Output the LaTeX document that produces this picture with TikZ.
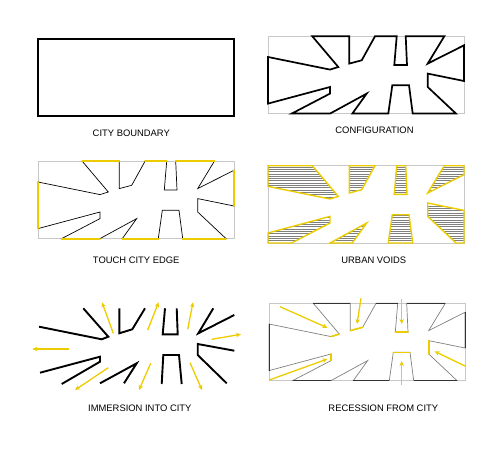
\documentclass[tikz,border=0pt]{standalone}
\usepackage{fontspec}
\setmainfont{Liberation Sans}
\usetikzlibrary{arrows.meta}
\definecolor{ylw}{RGB}{236,204,0}
\definecolor{frame}{RGB}{200,200,200}
\newcommand\setpts{%
 \coordinate (p1) at (44.3,0);
 \coordinate (p2) at (81.3,0);
 \coordinate (p3) at (81.3,27.3);
 \coordinate (p4) at (93.7,24);
 \coordinate (p5) at (107,0);
 \coordinate (p6) at (128.7,0);
 \coordinate (p7) at (126.3,28.7);
 \coordinate (p8) at (139,28.7);
 \coordinate (p9) at (137.7,0);
 \coordinate (p10) at (176.3,0);
 \coordinate (p11) at (159.7,27.3);
 \coordinate (p12) at (196,9);
 \coordinate (p13) at (196,44.7);
 \coordinate (p14) at (159.7,37.3);
 \coordinate (p15) at (159.7,50.7);
 \coordinate (p16) at (188,77.3);
 \coordinate (p17) at (144.7,77.3);
 \coordinate (p18) at (141,49);
 \coordinate (p19) at (124.3,49);
 \coordinate (p20) at (120.3,77.3);
 \coordinate (p21) at (84.3,77.3);
 \coordinate (p22) at (98.7,57.3);
 \coordinate (p23) at (62,77.3);
 \coordinate (p24) at (23.7,77.3);
 \coordinate (p25) at (62,57.3);
 \coordinate (p26) at (62,50.7);
 \coordinate (p27) at (0,67.3);
 \coordinate (p28) at (0,20.7);
 \coordinate (p29) at (62,33.3);
 \coordinate (p30) at (70.3,30.7);
 \coordinate (tl) at (0,0);
 \coordinate (tr) at (196,0);
 \coordinate (br) at (196,77.3);
 \coordinate (bl) at (0,77.3);
}
\newcommand\outline{(p1) -- (p2) -- (p3) -- (p4) -- (p5) -- (p6) -- (p7) -- (p8) -- (p9) -- (p10) -- (p11) -- (p12) -- (p13) -- (p14) -- (p15) -- (p16) -- (p17) -- (p18) -- (p19) -- (p20) -- (p21) -- (p22) -- (p23) -- (p24) -- (p25) -- (p26) -- (p27) -- (p28) -- (p29) -- (p30) -- cycle}
\tikzset{
 lbl/.style={font=\fontsize{9.4}{11}\selectfont, inner sep=0pt},
 gframe/.style={draw=frame, line width=0.6},
 yarrow/.style={draw=ylw, line width=1.3, -{Stealth[length=5pt,width=4.5pt]}},
 piece/.style={draw=black, line width=1.9, line join=miter},
 yseg/.style={draw=ylw, line width=1.9, line cap=round},
}
\begin{document}
\begin{tikzpicture}[x=1pt,y=-1pt]
\useasboundingbox (0,0) rectangle (502,457);

% Panel 1: city boundary
\draw[line width=1.9] (38.3,39) rectangle (234.3,115.7);
\node[lbl] (l1) at (131.3,133) {CITY BOUNDARY};

% Panel 2: configuration
\begin{scope}[shift={(268,36.3)}]
 \setpts
 \draw[gframe] (tl) rectangle (br);
 \draw[line width=1.7, line join=miter] (p1) -- (p2) -- (p3) -- (p4) -- (p5) -- (p6) -- (p7) -- (p8) -- (p9) -- (p10) -- (p11) -- (p12) -- (p13) -- (p14) -- (p15) -- (p16) -- (p17) -- (p18) -- (p19) -- (p20) -- (p21) -- (p22) -- (p23) -- (p24) -- (p25) -- (p26) -- (p27) -- (p28) -- (p29) -- (p30) -- cycle;
\end{scope}
\node[lbl] (l2) at (374.5,130.5) {CONFIGURATION};

% Panel 3: touch city edge
\begin{scope}[shift={(38,161.3)}]
 \setpts
 \draw[gframe] (tl) rectangle (br);
 \draw[line width=0.7, line join=miter] (p1) -- (p2) -- (p3) -- (p4) -- (p5) -- (p6) -- (p7) -- (p8) -- (p9) -- (p10) -- (p11) -- (p12) -- (p13) -- (p14) -- (p15) -- (p16) -- (p17) -- (p18) -- (p19) -- (p20) -- (p21) -- (p22) -- (p23) -- (p24) -- (p25) -- (p26) -- (p27) -- (p28) -- (p29) -- (p30) -- cycle;
 \draw[yseg] (p1) -- (p2);
 \draw[yseg] (p5) -- (p6);
 \draw[yseg] (p9) -- (p10);
 \draw[yseg] (p12) -- (p13);
 \draw[yseg] (p16) -- (p17);
 \draw[yseg] (p20) -- (p21);
 \draw[yseg] (p23) -- (p24);
 \draw[yseg] (p27) -- (p28);
\end{scope}
\node[lbl] (l3) at (136.2,260) {TOUCH CITY EDGE};

% Panel 4: urban voids
\begin{scope}[shift={(268,165.7)}]
 \setpts
 \draw[gframe] (tl) rectangle (br);
 \begin{scope}
  \clip (tl) -- (p1) -- (p30) -- (p29) -- (p28) -- cycle
        (p2) -- (p3) -- (p4) -- (p5) -- cycle
        (p6) -- (p7) -- (p8) -- (p9) -- cycle
        (p10) -- (p11) -- (p12) -- (tr) -- cycle
        (p13) -- (p14) -- (p15) -- (p16) -- (br) -- cycle
        (p17) -- (p18) -- (p19) -- (p20) -- cycle
        (p21) -- (p22) -- (p23) -- cycle
        (p24) -- (p25) -- (p26) -- (p27) -- (bl) -- cycle;
  \foreach \yy in {1.2,3.5,...,78} \draw[gray, line width=0.6] (0,\yy) -- (196,\yy);
 \end{scope}
 \begin{scope}[draw=ylw, line width=1.4, line join=miter]
  \draw (tl) -- (p1) -- (p30) -- (p29) -- (p28) -- cycle;
  \draw (p2) -- (p3) -- (p4) -- (p5) -- cycle;
  \draw (p6) -- (p7) -- (p8) -- (p9) -- cycle;
  \draw (p10) -- (p11) -- (p12) -- (tr) -- cycle;
  \draw (p13) -- (p14) -- (p15) -- (p16) -- (br) -- cycle;
  \draw (p17) -- (p18) -- (p19) -- (p20) -- cycle;
  \draw (p21) -- (p22) -- (p23) -- cycle;
  \draw (p24) -- (p25) -- (p26) -- (p27) -- (bl) -- cycle;
 \end{scope}
\end{scope}
\node[lbl] (l4) at (373.8,260) {URBAN VOIDS};

% Panel 5: immersion into city
\draw[piece] (39,326.7) -- (101.7,339.3) -- (108.3,336.7) -- (83.3,308.3);
\draw[piece] (119.3,308.3) -- (119.3,333.3) -- (132.3,329.3) -- (145,308.3);
\draw[piece] (165,308.3) -- (162.7,334.3) -- (177.7,334.3) -- (176.7,308.3);
\draw[piece] (213.3,308.3) -- (198.3,333.3) -- (234.3,315);
\draw[piece] (234.3,350.7) -- (197.7,344) -- (197.7,355) -- (226.7,383.3);
\draw[piece] (181.7,384) -- (179,355) -- (163.3,355) -- (161.7,384);
\draw[piece] (100,383.3) -- (136.7,363.3) -- (124,383.3);
\draw[piece] (40,372.7) -- (100,356.7) -- (100,361.7) -- (61.7,384);
\draw[yarrow] (69.3,349) -- (32.3,349);
\draw[yarrow] (113.3,333.3) -- (102,302.3);
\draw[yarrow] (147.7,330) -- (158.6,302.3);
\draw[yarrow] (187.7,329.3) -- (193,302.3);
\draw[yarrow] (211.7,339.3) -- (241,334.3);
\draw[yarrow] (190,362.7) -- (202,390);
\draw[yarrow] (150.7,363.3) -- (139,390);
\draw[yarrow] (108.3,367.7) -- (75,390);
\node[lbl] (l5) at (139.8,408) {IMMERSION INTO CITY};

% Panel 6: recession from city
\begin{scope}[shift={(269,303.3)}]
 \setpts
 \draw[gframe] (tl) rectangle (br);
 \draw[gray, line width=0.7, line join=miter] (p1) -- (p2) -- (p3) -- (p4) -- (p5) -- (p6) -- (p7) -- (p8) -- (p9) -- (p10) -- (p11) -- (p12) -- (p13) -- (p14) -- (p15) -- (p16) -- (p17) -- (p18) -- (p19) -- (p20) -- (p21) -- (p22) -- (p23) -- (p24) -- (p25) -- (p26) -- (p27) -- (p28) -- (p29) -- (p30) -- cycle;
 \begin{scope}[line width=0.8, black!80]
  \draw (p1) -- (p2); \draw (p5) -- (p6); \draw (p9) -- (p10);
  \draw (p12) -- (p13); \draw (p16) -- (p17); \draw (p20) -- (p21);
  \draw (p23) -- (p24); \draw (p27) -- (p28);
 \end{scope}
 \draw[yseg, line width=1.6] (p29) -- (p30);
 \draw[yseg, line width=1.6] (p3) -- (p4);
 \draw[yseg, line width=1.6] (p7) -- (p8);
 \draw[yseg, line width=1.6] (p14) -- (p15);
 \draw[yseg, line width=1.6] (p18) -- (p19);
 \draw[yseg, line width=1.6] (p25) -- (p26);
\end{scope}
\draw[yarrow] (280,306.7) -- (327.5,327.8);
\draw[yarrow] (361,298.3) -- (357,324);
\draw[yarrow] (401.7,299.3) -- (401.7,324);
\draw[yarrow] (465,366) -- (434.5,351.3);
\draw[yarrow] (401.7,385) -- (401.7,361);
\draw[yarrow] (269.3,380) -- (327.5,359);
\node[lbl] (l6) at (383.3,408) {RECESSION FROM CITY};
\end{tikzpicture}
\end{document}
